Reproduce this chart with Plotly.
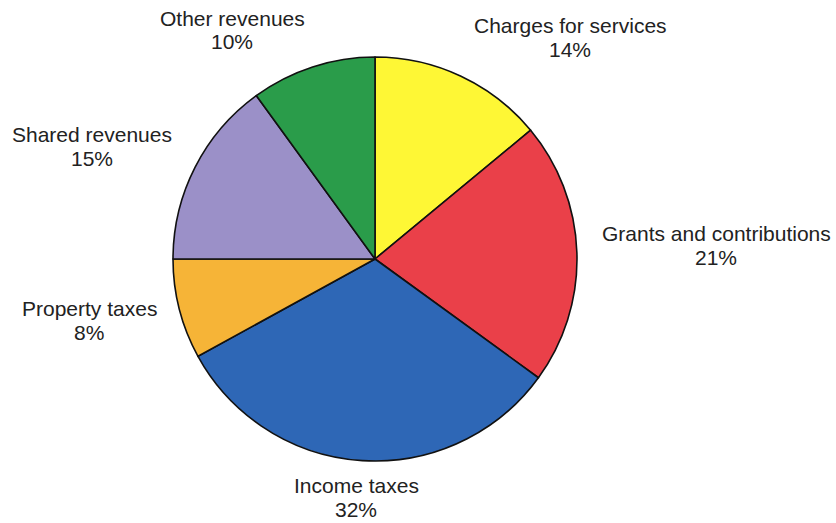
import plotly.graph_objects as go

# Revenue sources, clockwise from 12 o'clock
labels = ["Charges for services", "Grants and contributions", "Income taxes",
          "Property taxes", "Shared revenues", "Other revenues"]
shares = [14, 21, 32, 8, 15, 10]
colors = ["#FEF735", "#EA4049", "#2E67B6", "#F6B437", "#9B90C8", "#2A9C4A"]

# Label anchor points (pixel space of the 836x523 canvas)
label_px = [(570, 37), (716, 245), (356, 497), (89, 320), (92, 147), (232, 30)]

W, H = 836, 523
cx, cy, r = 375, 259, 202
line_gap = 24  # distance between the name line and the percent line

fig = go.Figure(go.Pie(
    labels=labels,
    values=shares,
    sort=False,
    direction="clockwise",
    rotation=0,
    textinfo="none",
    marker=dict(colors=colors, line=dict(color="#111111", width=1.6)),
    domain=dict(x=[(cx - r) / W, (cx + r) / W],
                y=[1 - (cy + r) / H, 1 - (cy - r) / H]),
    showlegend=False,
))

font = dict(family="Liberation Sans, Arial, sans-serif", size=21, color="#222222")
for name, val, (px, py) in zip(labels, shares, label_px):
    for text, yy in ((name, py - line_gap / 2), (f"{val}%", py + line_gap / 2)):
        fig.add_annotation(
            x=px / W, y=1 - yy / H, xref="paper", yref="paper",
            text=text, showarrow=False,
            xanchor="center", yanchor="middle", align="center",
            font=font,
        )

fig.update_layout(
    width=W, height=H,
    margin=dict(l=0, r=0, t=0, b=0),
    paper_bgcolor="white", plot_bgcolor="white",
)

fig.write_html("out.html")
